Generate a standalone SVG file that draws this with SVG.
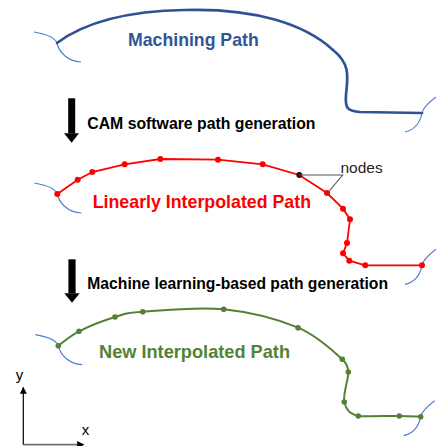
<svg xmlns="http://www.w3.org/2000/svg" width="436" height="446" viewBox="0 0 436 446">
  <style>
    .lbl { font-family: "Liberation Sans", Arial, sans-serif; font-weight: bold; }
    .plain { font-family: "Liberation Sans", Arial, sans-serif; }
    .cap { fill: none; stroke: #4F80D2; stroke-width: 1.2; }
    .red-node { fill: #FF0000; }
    .green-node { fill: #548235; }
  </style>
  <defs>
    <!-- thin end caps of each path -->
    <path id="cap-left" class="cap" d="M-23,-11 C-11,-9 -2,-5 0,0 C2,9 10,18 24,19"/>
    <path id="cap-right" class="cap" d="M14,-16 C6,-10 1,-5 0,0 C-2,10 -8,17 -17,19"/>
    <marker id="axis-head" viewBox="0 0 10 10" refX="9" refY="5" markerWidth="7" markerHeight="7" markerUnits="userSpaceOnUse" orient="auto">
      <path d="M0,0 L10,5 L0,10 Z" fill="#000"/>
    </marker>
  </defs>

  <!-- machining path -->
  <g id="machining-path">
    <use href="#cap-left" x="57" y="43"/>
    <use href="#cap-right" x="422" y="113"/>
    <path d="M57,43 C85,22 125,11 185,10 C255,8 305,24 333,50 C352,65 347,80 346,95 C345,108 347,111 360,112 L422,113" fill="none" stroke="#2F5294" stroke-width="2.7" stroke-linecap="round"/>
    <text class="lbl" x="128" y="46" font-size="17.7" fill="#2F5597">Machining Path</text>
  </g>

  <!-- linearly interpolated path -->
  <g id="linear-path">
    <use href="#cap-left" x="57.3" y="194"/>
    <use href="#cap-right" x="422" y="265.3"/>
    <polyline fill="none" stroke="#FF0000" stroke-width="1.8" points="57.3,194 77.7,179.7 92.3,172 124.7,164.3 160.3,159 218,159.7 262.7,164.3 299.3,175 327,193 343,208.7 350,219.3 347,243 343,253.3 349.3,260.7 365.3,265.3 422,265.3"/>
    <g class="red-node">
      <circle cx="57.3" cy="194" r="3"/>
      <circle cx="77.7" cy="179.7" r="3"/>
      <circle cx="92.3" cy="172" r="3"/>
      <circle cx="124.7" cy="164.3" r="3"/>
      <circle cx="160.3" cy="159" r="3"/>
      <circle cx="218" cy="159.7" r="3"/>
      <circle cx="262.7" cy="164.3" r="3"/>
      <circle cx="299.3" cy="175" r="3" fill="#3A0A0A"/>
      <circle cx="327" cy="193" r="3"/>
      <circle cx="343" cy="208.7" r="3"/>
      <circle cx="350" cy="219.3" r="3"/>
      <circle cx="347" cy="243" r="3"/>
      <circle cx="343" cy="253.3" r="3"/>
      <circle cx="349.3" cy="260.7" r="3"/>
      <circle cx="365.3" cy="265.3" r="3"/>
      <circle cx="422" cy="265.3" r="3"/>
    </g>
    <text class="lbl" x="92.7" y="208.3" font-size="17.8" fill="#FF0000">Linearly Interpolated Path</text>
  </g>

  <!-- callout for the nodes -->
  <g id="nodes-callout">
    <polyline fill="none" stroke="#555" stroke-width="1.1" points="299.3,175 342.7,175 327.5,193"/>
    <text class="plain" x="340.5" y="172.5" font-size="15.5" fill="#262626">nodes</text>
  </g>

  <!-- new interpolated path -->
  <g id="new-path">
    <use href="#cap-left" x="58.3" y="345.7"/>
    <use href="#cap-right" x="420.7" y="416.7"/>
    <path fill="none" stroke="#548235" stroke-width="2" d="M58.3,345.7 C61.75,343.3 69.55,336.1 79,331.3 C88.45,326.5 104.4,320.3 115,317 C125.6,313.7 124.6,313 142.7,311.7 C160.8,310.4 197.8,306.6 223.7,309.3 C249.6,312 278.2,319.4 298,327.7 C317.8,336 333.9,351.9 342.3,359.3 C346.5,363 348.1,368.4 348.3,372 C348.6,379.1 342.6,394.7 344.3,402 C346,409.3 349.1,413.7 358.3,416 C367.5,416.5 388.9,415.9 399.3,416 C409.7,416.1 417.1,416.6 420.7,416.7"/>
    <g class="green-node">
      <circle cx="58.3" cy="345.7" r="2.8"/>
      <circle cx="79" cy="331.3" r="2.8"/>
      <circle cx="115" cy="317" r="2.8"/>
      <circle cx="142.7" cy="311.7" r="2.8"/>
      <circle cx="223.7" cy="309.3" r="2.8"/>
      <circle cx="298" cy="327.7" r="2.8"/>
      <circle cx="342.3" cy="359.3" r="2.8"/>
      <circle cx="348.3" cy="372" r="2.8"/>
      <circle cx="344.3" cy="402" r="2.8"/>
      <circle cx="358.3" cy="416" r="2.8"/>
      <circle cx="399.3" cy="416" r="2.8"/>
      <circle cx="420.7" cy="416.7" r="2.8"/>
    </g>
    <text class="lbl" x="99" y="358.3" font-size="18.2" fill="#548235">New Interpolated Path</text>
  </g>

  <!-- process steps -->
  <g id="step-cam">
    <rect x="68.2" y="98.3" width="7" height="35.2" fill="#000"/>
    <polygon points="64,133.2 79,133.2 71.7,142.8" fill="#000"/>
    <text class="lbl" x="87.3" y="129.3" font-size="15.8" fill="#000">CAM software path generation</text>
  </g>
  <g id="step-ml">
    <rect x="68.4" y="259.3" width="7.2" height="34.2" fill="#000"/>
    <polygon points="64.3,293.3 79.7,293.3 72,302.8" fill="#000"/>
    <text class="lbl" x="87.3" y="289" font-size="15.7" fill="#000">Machine learning-based path generation</text>
  </g>

  <!-- coordinate axes -->
  <g id="axes">
    <line x1="23.3" y1="445" x2="23.3" y2="387.5" stroke="#000" stroke-width="1.2" marker-end="url(#axis-head)"/>
    <line x1="23.3" y1="444.6" x2="83.5" y2="444.6" stroke="#707070" stroke-width="1.6" marker-end="url(#axis-head)"/>
    <text class="plain" x="15.8" y="379.5" font-size="15" fill="#000">y</text>
    <text class="plain" x="81.8" y="435.3" font-size="15" fill="#000">x</text>
  </g>
</svg>
